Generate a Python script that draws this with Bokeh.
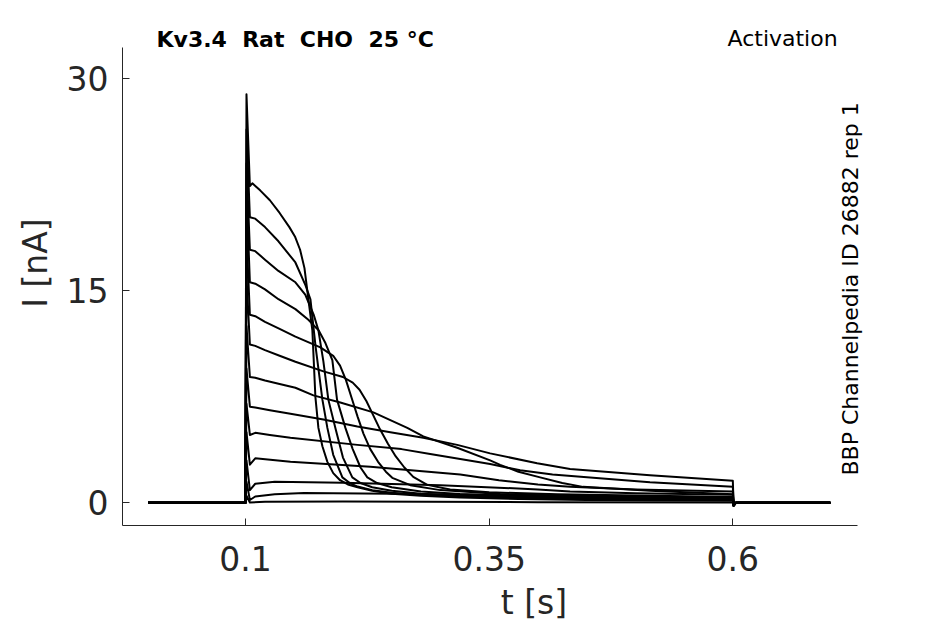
import math
from bokeh.plotting import figure
from bokeh.models import Range1d, Label, FixedTicker, ColumnDataSource
from bokeh.embed import file_html
from bokeh.resources import INLINE

# ---- tick labels ----
x_ticks = [0.1, 0.35, 0.6]
x_tick_labels = ["0.1", "0.35", "0.6"]
y_ticks = [0, 15, 30]

# ---- current traces (time in s, current in nA) ----
t1 = [0, 0.0999, 0.101, 0.1045, 0.107, 0.115, 0.125, 0.135, 0.145, 0.151, 0.156, 0.1605, 0.1645, 0.1686, 0.1717, 0.1748, 0.1789, 0.184, 0.190, 0.197, 0.205, 0.215, 0.23, 0.25, 0.28, 0.32, 0.38, 0.45, 0.52, 0.6, 0.6008, 0.603, 0.7]
i1 = [0, 0, 28.9, 22.4, 22.6, 22.1, 21.4, 20.5, 19.5, 18.8, 17.9, 16.6, 14.4, 12.2, 7.5, 5.3, 4.0, 2.9, 2.1, 1.6, 1.3, 1.1, 0.85, 0.65, 0.5, 0.38, 0.28, 0.2, 0.16, 0.14, -0.2, 0, 0]

t2 = [0, 0.0999, 0.101, 0.1045, 0.11, 0.12, 0.1338, 0.1512, 0.1615, 0.1666, 0.172, 0.1789, 0.184, 0.190, 0.1994, 0.207, 0.215, 0.23, 0.25, 0.28, 0.32, 0.38, 0.45, 0.52, 0.6, 0.6008, 0.603, 0.7]
i2 = [0, 0, 26.4, 20.2, 20.1, 19.5, 18.5, 17.0, 15.4, 14.4, 11.0, 7.3, 5.3, 3.4, 1.8, 1.4, 1.15, 0.9, 0.72, 0.56, 0.45, 0.34, 0.26, 0.22, 0.2, -0.2, 0, 0]

t3 = [0, 0.0999, 0.101, 0.1045, 0.11, 0.12, 0.1338, 0.1512, 0.1615, 0.17, 0.1748, 0.1799, 0.185, 0.1922, 0.2, 0.2096, 0.218, 0.23, 0.25, 0.28, 0.32, 0.38, 0.45, 0.52, 0.6, 0.6008, 0.603, 0.7]
i3 = [0, 0, 24.0, 17.9, 17.8, 17.2, 16.4, 15.6, 14.7, 13.3, 12.2, 10.0, 7.3, 5.3, 3.2, 1.8, 1.4, 1.1, 0.85, 0.65, 0.52, 0.4, 0.32, 0.27, 0.24, -0.2, 0, 0]

t4 = [0, 0.0999, 0.101, 0.1045, 0.11, 0.12, 0.1338, 0.1512, 0.1645, 0.175, 0.182, 0.1891, 0.1939, 0.2025, 0.21, 0.218, 0.225, 0.235, 0.25, 0.28, 0.32, 0.38, 0.45, 0.52, 0.6, 0.6008, 0.603, 0.7]
i4 = [0, 0, 22.0, 15.6, 15.5, 15.1, 14.4, 13.7, 12.95, 12.2, 11.3, 10.1, 7.3, 5.3, 3.8, 2.5, 1.8, 1.4, 1.1, 0.8, 0.62, 0.48, 0.38, 0.33, 0.3, -0.2, 0, 0]

t5 = [0, 0.0999, 0.101, 0.1045, 0.11, 0.12, 0.135, 0.1512, 0.1768, 0.19, 0.197, 0.203, 0.209, 0.215, 0.221, 0.228, 0.236, 0.244, 0.2506, 0.2691, 0.2998, 0.3613, 0.45, 0.6, 0.6008, 0.603, 0.7]
i5 = [0, 0, 19.0, 13.3, 13.2, 12.8, 12.3, 11.75, 11.0, 10.4, 9.7, 8.7, 7.4, 6.1, 4.9, 3.8, 2.9, 2.2, 1.77, 1.25, 0.9, 0.62, 0.48, 0.37, -0.2, 0, 0]

t6 = [0, 0.0999, 0.101, 0.1045, 0.11, 0.12, 0.135, 0.1512, 0.18, 0.2, 0.21, 0.217, 0.224, 0.231, 0.238, 0.246, 0.254, 0.263, 0.2721, 0.2865, 0.31, 0.35, 0.42, 0.6, 0.6008, 0.603, 0.7]
i6 = [0, 0, 16.0, 11.2, 11.1, 10.8, 10.4, 9.98, 9.3, 8.9, 8.5, 8.0, 7.2, 6.2, 5.2, 4.2, 3.3, 2.5, 1.84, 1.27, 0.95, 0.75, 0.6, 0.42, -0.2, 0, 0]

t7 = [0, 0.0999, 0.101, 0.1045, 0.11, 0.12, 0.135, 0.1512, 0.1697, 0.1973, 0.2312, 0.266, 0.2824, 0.3172, 0.351, 0.3613, 0.38, 0.4023, 0.425, 0.4463, 0.515, 0.6, 0.6008, 0.603, 0.7]
i7 = [0, 0, 12.5, 8.9, 8.85, 8.65, 8.4, 8.14, 7.6, 7.1, 6.4, 5.3, 4.7, 3.9, 3.0, 2.69, 2.2, 1.8, 1.4, 1.13, 0.85, 0.6, -0.2, 0, 0]

t8 = [0, 0.0999, 0.101, 0.1045, 0.11, 0.125, 0.1461, 0.18, 0.2148, 0.2486, 0.2824, 0.3172, 0.351, 0.3992, 0.433, 0.515, 0.6, 0.6008, 0.603, 0.7]
i8 = [0, 0, 9.5, 6.8, 6.75, 6.55, 6.3, 5.9, 5.4, 5.0, 4.6, 4.1, 3.5, 2.8, 2.4, 1.95, 1.56, -0.2, 0, 0]

t9 = [0, 0.0999, 0.101, 0.1045, 0.11, 0.125, 0.1461, 0.2148, 0.26, 0.2895, 0.3203, 0.351, 0.3818, 0.415, 0.46, 0.515, 0.6, 0.6008, 0.603, 0.7]
i9 = [0, 0, 7.0, 4.8, 4.95, 4.8, 4.6, 4.1, 3.8, 3.45, 3.1, 2.75, 2.3, 2.0, 1.75, 1.45, 1.13, -0.1, 0, 0]

t10 = [0, 0.0999, 0.101, 0.1045, 0.11, 0.1461, 0.2281, 0.3203, 0.36, 0.4, 0.433, 0.5, 0.6, 0.6008, 0.603, 0.7]
i10 = [0, 0, 5.0, 2.7, 3.15, 2.9, 2.55, 2.0, 1.6, 1.3, 1.13, 0.95, 0.8, -0.1, 0, 0]

t11 = [0, 0.0999, 0.101, 0.1045, 0.11, 0.13, 0.2, 0.3, 0.4, 0.433, 0.5, 0.6, 0.6008, 0.603, 0.7]
i11 = [0, 0, 3.0, 0.9, 1.35, 1.5, 1.42, 1.25, 0.95, 0.8, 0.68, 0.57, -0.05, 0, 0]

t12 = [0, 0.0999, 0.101, 0.1045, 0.11, 0.13, 0.16, 0.25, 0.35, 0.45, 0.6, 0.6008, 0.7]
i12 = [0, 0, 1.5, 0.2, 0.45, 0.6, 0.7, 0.65, 0.55, 0.45, 0.37, 0, 0]

t13 = [0, 0.0999, 0.101, 0.1045, 0.12, 0.2, 0.4, 0.6, 0.6008, 0.7]
i13 = [0, 0, 0.5, 0.02, 0.08, 0.1, 0.05, 0.02, 0, 0]

traces = [(t1, i1), (t2, i2), (t3, i3), (t4, i4), (t5, i5), (t6, i6), (t7, i7),
          (t8, i8), (t9, i9), (t10, i10), (t11, i11), (t12, i12), (t13, i13)]

FONT = "DejaVu Sans"
GREY = "#262626"
NB = "\u00a0"

# visible axis extents (data units)
X_AXIS = (-0.0262, 0.7276)
Y_AXIS = (-1.602, 32.19)

p = figure(width=945, height=624, output_backend="svg", toolbar_location=None, title=None,
           x_range=Range1d(-0.0262, 0.8182), y_range=Range1d(-1.602, 35.527),
           min_border_left=122, min_border_right=0, min_border_top=0, min_border_bottom=98)
p.outline_line_color = None
p.xgrid.visible = False
p.ygrid.visible = False
p.background_fill_color = "white"
p.border_fill_color = "white"

for tt, ii in traces:
    src = ColumnDataSource(dict(t=tt, i=ii))
    p.line("t", "i", source=src, line_color="black", line_width=2.0, line_join="round")

for ax in (p.xaxis[0], p.yaxis[0]):
    ax.axis_line_color = GREY
    ax.axis_line_width = 1
    ax.major_tick_line_color = GREY
    ax.major_tick_in = 7
    ax.major_tick_out = 0
    ax.minor_tick_in = 0
    ax.minor_tick_out = 0
    ax.minor_tick_line_color = None
    ax.major_label_text_font = FONT
    ax.major_label_text_font_size = "33px"
    ax.major_label_text_color = GREY
    ax.axis_label_text_font = FONT
    ax.axis_label_text_font_size = "33px"
    ax.axis_label_text_font_style = "normal"
    ax.axis_label_text_color = GREY

p.xaxis.bounds = X_AXIS
p.yaxis.bounds = Y_AXIS
p.xaxis.ticker = FixedTicker(ticks=x_ticks)
p.xaxis.major_label_overrides = {v: s for v, s in zip(x_ticks, x_tick_labels)}
p.xaxis.major_label_standoff = 20
p.xaxis.axis_label = "t [s]"
p.xaxis.axis_label_standoff = 9
p.yaxis.ticker = FixedTicker(ticks=y_ticks)
p.yaxis.major_label_standoff = 14
p.yaxis.axis_label = "I [nA]"
p.yaxis.axis_label_standoff = 9

p.add_layout(Label(x=34, y=486.3, x_units="screen", y_units="screen",
                   text="Kv3.4" + NB + " Rat" + NB + " CHO" + NB + " 25 °C",
                   text_align="left", text_baseline="alphabetic",
                   text_font=FONT, text_font_size="22px", text_font_style="bold", text_color="black"))
p.add_layout(Label(x=605, y=486.8, x_units="screen", y_units="screen",
                   text="Activation", text_align="left", text_baseline="alphabetic",
                   text_font=FONT, text_font_size="22px", text_color="black"))
p.add_layout(Label(x=728, y=50, x_units="screen", y_units="screen",
                   text="BBP Channelpedia ID 26882 rep 1", angle=math.pi / 2,
                   text_align="left", text_baseline="alphabetic",
                   text_font=FONT, text_font_size="22px", text_color="black"))

open("out.html", "w").write(file_html(p, INLINE))
